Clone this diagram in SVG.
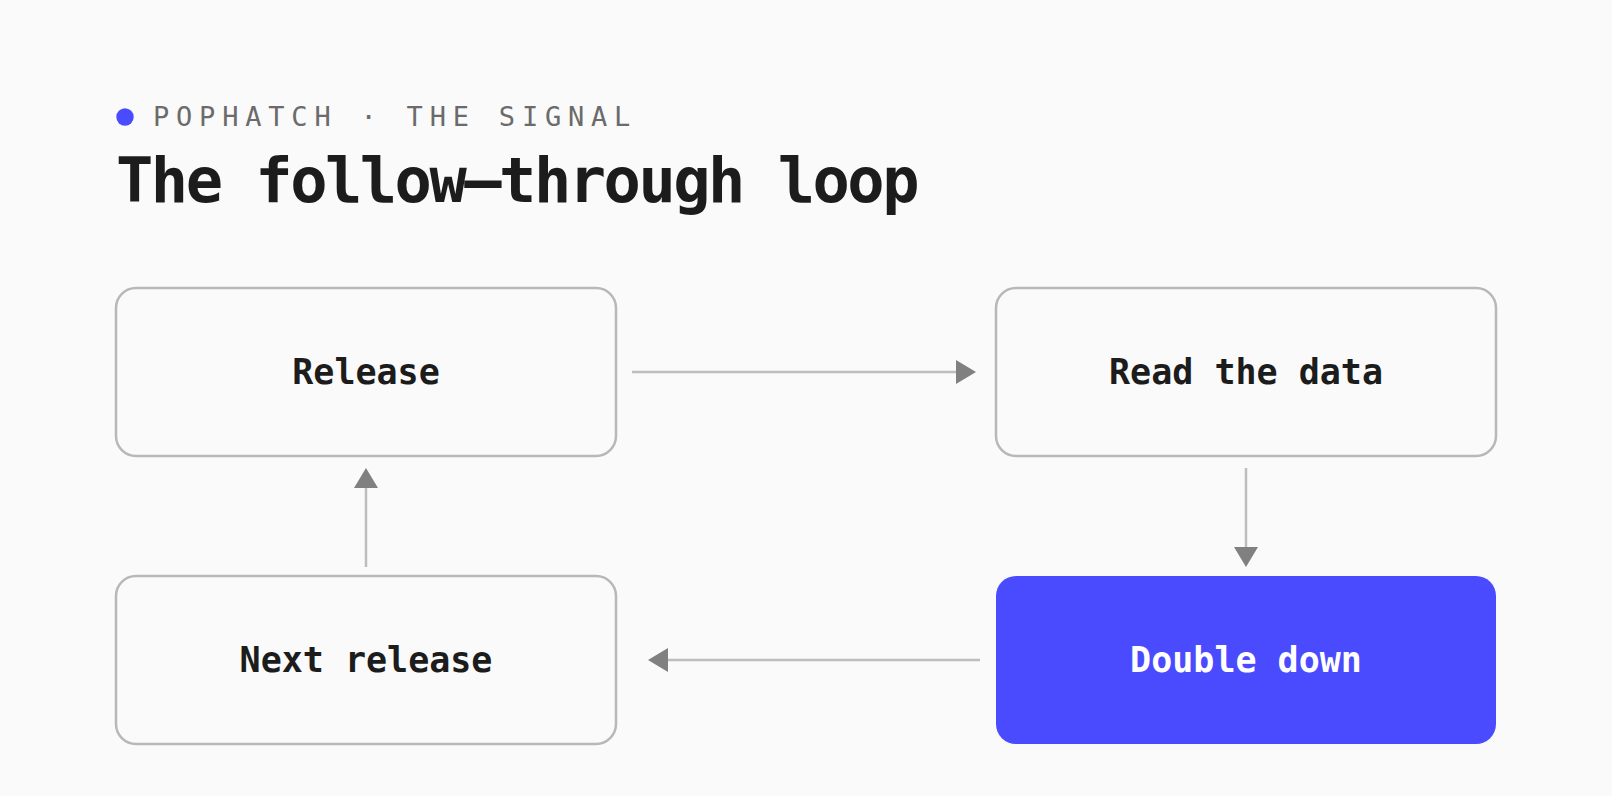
<svg xmlns="http://www.w3.org/2000/svg" width="1612" height="796" viewBox="0 0 1612 796">
  <defs>
    <marker id="arrow" markerUnits="userSpaceOnUse" markerWidth="20" markerHeight="24" viewBox="0 0 20 24" refX="0" refY="12" orient="auto">
      <path d="M0,0 L20,12 L0,24 z" fill="#808080"/>
    </marker>
    <style>
      .box { fill: #fafafa; stroke: #b8b8b8; stroke-width: 2.5; }
      .box-accent { fill: #4a4aff; }
      .label { font-family: "DejaVu Sans Mono", "Liberation Mono", monospace; font-weight: bold; font-size: 35px; fill: #1c1c1c; text-anchor: middle; }
      .label-accent { fill: #ffffff; }
      .conn { stroke: #bdbdbd; stroke-width: 2.5; fill: none; marker-end: url(#arrow); }
      .eyebrow { font-family: "DejaVu Sans Mono", "Liberation Mono", monospace; font-size: 27px; letter-spacing: 6.8px; fill: #6b6b6b; }
      .title { font-family: "DejaVu Sans Mono", "Liberation Mono", monospace; font-weight: bold; font-size: 62px; letter-spacing: -2.5px; fill: #1c1c1c; }
    </style>
  </defs>
  <rect x="0" y="0" width="1612" height="796" fill="#fafafa"/>

  <g id="header">
    <circle cx="125" cy="117" r="8.7" fill="#4a4aff"/>
    <text class="eyebrow" x="153" y="126">POPHATCH · THE SIGNAL</text>
    <text class="title" x="116" y="202">The follow—through loop</text>
  </g>

  <g id="connectors">
    <line class="conn" x1="632" y1="372" x2="956" y2="372"/>
    <line class="conn" x1="1246" y1="468" x2="1246" y2="547"/>
    <line class="conn" x1="980" y1="660" x2="668" y2="660"/>
    <line class="conn" x1="366" y1="567" x2="366" y2="488"/>
  </g>

  <g id="node-release">
    <rect class="box" x="116" y="288" width="500" height="168" rx="20"/>
    <text class="label" x="366" y="384">Release</text>
  </g>
  <g id="node-read-the-data">
    <rect class="box" x="996" y="288" width="500" height="168" rx="20"/>
    <text class="label" x="1246" y="384">Read the data</text>
  </g>
  <g id="node-double-down">
    <rect class="box-accent" x="996" y="576" width="500" height="168" rx="20"/>
    <text class="label label-accent" x="1246" y="672">Double down</text>
  </g>
  <g id="node-next-release">
    <rect class="box" x="116" y="576" width="500" height="168" rx="20"/>
    <text class="label" x="366" y="672">Next release</text>
  </g>
</svg>
